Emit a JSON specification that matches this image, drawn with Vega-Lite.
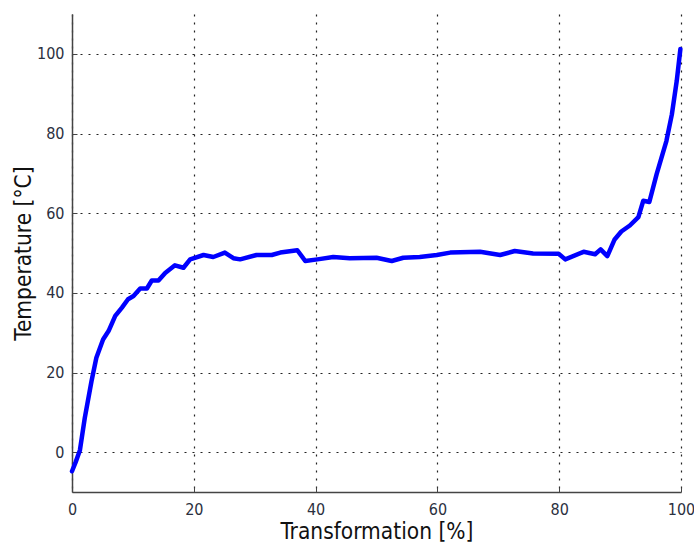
{
  "$schema": "https://vega.github.io/schema/vega-lite/v6.json",
  "width": 609,
  "height": 478,
  "autosize": {"type": "none"},
  "padding": {"left": 72, "top": 14, "right": 13, "bottom": 52},
  "background": "white",
  "config": {
    "view": {"stroke": null},
    "font": "DejaVu Sans Condensed",
    "axis": {
      "domainColor": "#444444",
      "domainWidth": 1.5,
      "tickColor": "#444444",
      "tickSize": -5,
      "labelFont": "DejaVu Sans Condensed",
      "labelFontSize": 16,
      "labelColor": "#2b3040",
      "titleFont": "DejaVu Sans Condensed",
      "titleFontSize": 22.5,
      "titleFontWeight": "normal",
      "titleColor": "#111111",
      "gridColor": "#222222",
      "gridDash": [2, 6],
      "gridWidth": 1.2,
      "gridOpacity": 1
    }
  },
  "data": {
    "values": [
      {"t": 0.0, "temp": -4.8},
      {"t": 0.6, "temp": -2.5},
      {"t": 1.3, "temp": 0.5},
      {"t": 2.1, "temp": 8.6},
      {"t": 3.2, "temp": 17.8},
      {"t": 4.0, "temp": 23.7},
      {"t": 5.1, "temp": 28.3},
      {"t": 6.0, "temp": 30.4},
      {"t": 7.1, "temp": 34.2},
      {"t": 8.2, "temp": 36.3},
      {"t": 9.2, "temp": 38.4},
      {"t": 10.1, "temp": 39.2},
      {"t": 11.2, "temp": 41.1},
      {"t": 12.3, "temp": 41.1},
      {"t": 13.1, "temp": 43.1},
      {"t": 14.2, "temp": 43.1},
      {"t": 15.3, "temp": 45.0},
      {"t": 16.9, "temp": 46.9},
      {"t": 18.3, "temp": 46.3},
      {"t": 19.4, "temp": 48.4},
      {"t": 21.6, "temp": 49.5},
      {"t": 23.2, "temp": 49.0},
      {"t": 25.1, "temp": 50.1},
      {"t": 26.5, "temp": 48.7},
      {"t": 27.6, "temp": 48.4},
      {"t": 30.3, "temp": 49.5},
      {"t": 32.8, "temp": 49.5},
      {"t": 34.2, "temp": 50.1},
      {"t": 37.0, "temp": 50.7},
      {"t": 38.3, "temp": 48.0},
      {"t": 40.3, "temp": 48.4},
      {"t": 42.9, "temp": 49.0},
      {"t": 45.6, "temp": 48.7},
      {"t": 50.0, "temp": 48.8},
      {"t": 52.5, "temp": 48.0},
      {"t": 54.4, "temp": 48.8},
      {"t": 57.1, "temp": 49.0},
      {"t": 59.9, "temp": 49.5},
      {"t": 62.1, "temp": 50.1},
      {"t": 67.0, "temp": 50.3},
      {"t": 70.3, "temp": 49.5},
      {"t": 72.7, "temp": 50.5},
      {"t": 75.7, "temp": 49.9},
      {"t": 79.9, "temp": 49.8},
      {"t": 81.0, "temp": 48.4},
      {"t": 84.0, "temp": 50.3},
      {"t": 85.9, "temp": 49.7},
      {"t": 86.8, "temp": 50.9},
      {"t": 87.9, "temp": 49.2},
      {"t": 89.1, "temp": 53.4},
      {"t": 90.2, "temp": 55.4},
      {"t": 91.6, "temp": 56.9},
      {"t": 93.0, "temp": 59.0},
      {"t": 93.8, "temp": 63.1},
      {"t": 94.8, "temp": 62.8},
      {"t": 96.0, "temp": 69.8},
      {"t": 97.6, "temp": 78.1},
      {"t": 98.5, "temp": 84.8},
      {"t": 99.3, "temp": 93.2},
      {"t": 99.9, "temp": 101.2}
    ]
  },
  "mark": {"type": "line", "color": "#0000ff", "strokeWidth": 4.5, "strokeJoin": "round", "strokeCap": "round", "clip": false},
  "encoding": {
    "x": {
      "field": "t",
      "type": "quantitative",
      "scale": {"domain": [0, 100], "nice": false, "zero": false},
      "axis": {"title": "Transformation [%]", "values": [0, 20, 40, 60, 80, 100], "labelPadding": 14, "titlePadding": 3, "labelFlush": false}
    },
    "y": {
      "field": "temp",
      "type": "quantitative",
      "scale": {"domain": [-10, 110], "nice": false, "zero": false},
      "axis": {"title": "Temperature [°C]", "values": [0, 20, 40, 60, 80, 100], "labelPadding": 13, "titlePadding": 1}
    }
  }
}
